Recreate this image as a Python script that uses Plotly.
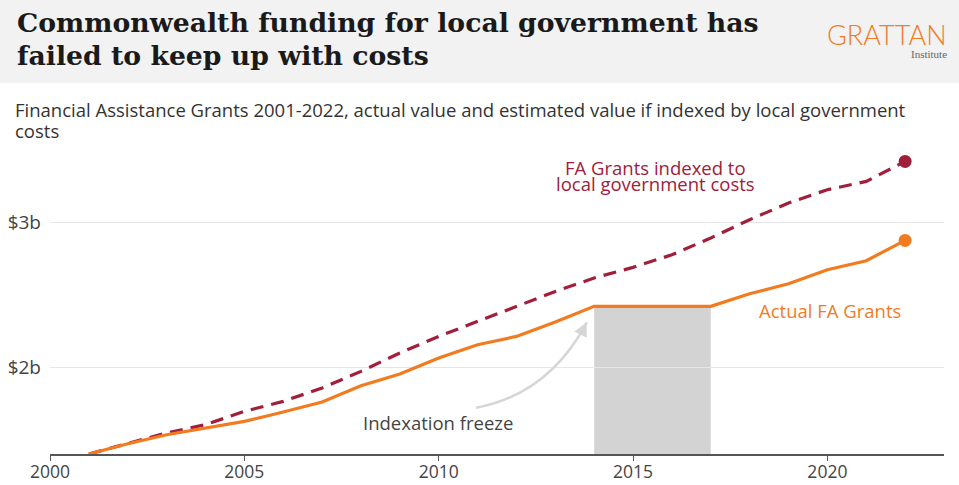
import plotly.graph_objects as go

years = list(range(2001, 2023))
actual = [1.40, 1.471, 1.533, 1.577, 1.625, 1.690, 1.758, 1.871, 1.952, 2.062, 2.154,
          2.211, 2.310, 2.418, 2.418, 2.418, 2.418, 2.505, 2.574, 2.671, 2.733, 2.873]
indexed = [1.40, 1.475, 1.545, 1.602, 1.694, 1.763, 1.855, 1.970, 2.097, 2.211, 2.314,
           2.418, 2.521, 2.614, 2.687, 2.774, 2.890, 3.016, 3.131, 3.223, 3.280, 3.418]
freeze_start, freeze_end = 2014, 2017
x_ticks = [2000, 2005, 2010, 2015, 2020]
y_ticks = [2, 3]
y_tick_labels = ["$2b", "$3b"]

ORANGE = "#F37B1F"
MAROON = "#A0203C"
W, H = 959, 485
L, R, T, B = 50, 15, 135, 31
X0, X1 = 2000, 2023
Y0, Y1 = 1.4, 3.6
SANS = "Open Sans"

def px_x(p):
    return (p - L) / (W - L - R)

def px_y(p):
    return (H - B - p) / (H - T - B)

fig = go.Figure()

# freeze shaded area
fz_val = actual[years.index(freeze_start)]
fig.add_shape(type="rect", xref="x", yref="y", x0=freeze_start, x1=freeze_end,
              y0=Y0, y1=fz_val, fillcolor="#d3d3d3", line_width=0, layer="below")

fig.add_trace(go.Scatter(x=years, y=indexed, mode="lines",
                         line=dict(color=MAROON, width=3.2, dash="13px,8px"),
                         hoverinfo="skip", cliponaxis=False))
fig.add_trace(go.Scatter(x=years, y=actual, mode="lines",
                         line=dict(color=ORANGE, width=3.2),
                         hoverinfo="skip", cliponaxis=False))
fig.add_trace(go.Scatter(x=[years[-1]], y=[indexed[-1]], mode="markers",
                         marker=dict(color=MAROON, size=13), cliponaxis=False, hoverinfo="skip"))
fig.add_trace(go.Scatter(x=[years[-1]], y=[actual[-1]], mode="markers",
                         marker=dict(color=ORANGE, size=13), cliponaxis=False, hoverinfo="skip"))

# header background
fig.add_shape(type="rect", xref="paper", yref="paper",
              x0=px_x(0), x1=px_x(W), y0=px_y(83), y1=px_y(0),
              fillcolor="#f2f2f2", line_width=0, layer="below")

# curved arrow for indexation freeze
fig.add_shape(type="path", xref="x", yref="y",
              path="M 2010.96,1.719 Q 2012.83,1.812 2013.81,2.308",
              line=dict(color="#d6d6d6", width=2.5))

def ptext(x, y, text, font, xanchor="left"):
    return dict(x=px_x(x), y=px_y(y), xref="paper", yref="paper", xanchor=xanchor,
                yanchor="middle", align="left", showarrow=False, text=text, font=font)

title_font = dict(family="DejaVu Serif", size=26.7, color="#1a1a1a", weight=700)
sub_font = dict(family=SANS, size=18.5, color="#333333")
lab = 18.5

annotations = [
    dict(x=2013.81, y=2.308, ax=2013.70, ay=2.25, xref="x", yref="y", axref="x", ayref="y",
         text="", showarrow=True, arrowhead=2, arrowsize=1.1, arrowwidth=2.5, arrowcolor="#d6d6d6"),
    dict(x=2009.99, y=1.616, xref="x", yref="y", text="Indexation freeze", showarrow=False,
         font=dict(family=SANS, size=lab, color="#444444")),
    dict(x=2015.57, y=3.379, xref="x", yref="y", text="FA Grants indexed to",
         showarrow=False, font=dict(family=SANS, size=lab, color=MAROON)),
    dict(x=2015.57, y=3.266, xref="x", yref="y", text="local government costs",
         showarrow=False, font=dict(family=SANS, size=lab, color=MAROON)),
    dict(x=2020.07, y=2.388, xref="x", yref="y", text="Actual FA Grants", showarrow=False,
         font=dict(family=SANS, size=lab, color=ORANGE)),
    # title
    ptext(15, 23, "Commonwealth funding for local government has", title_font),
    ptext(15, 55, "failed to keep up with costs", title_font),
    # logo
    ptext(949, 34.5, "GRATTAN", dict(family="Lato", size=27, color=ORANGE, weight=300), "right"),
    ptext(949, 54, "Institute", dict(family="Liberation Serif", size=11, color="#666666"), "right"),
    # subtitle
    ptext(13, 110, "Financial Assistance Grants 2001-2022, actual value and estimated value if indexed by local government", sub_font),
    ptext(13, 130, "costs", sub_font),
]

fig.update_layout(
    width=W, height=H,
    margin=dict(l=L, r=R, t=T, b=B),
    paper_bgcolor="white", plot_bgcolor="white",
    showlegend=False,
    annotations=annotations,
    xaxis=dict(range=[X0, X1], tickvals=x_ticks, ticktext=[str(v) for v in x_ticks],
               showgrid=False, zeroline=False, showline=True, linecolor="#555555", linewidth=1.5,
               ticks="outside", ticklen=5, tickcolor="#555555", automargin=False,
               ticklabelstandoff=-4,
               tickfont=dict(family=SANS, size=17.5, color="#444444")),
    yaxis=dict(range=[Y0, Y1], tickvals=y_ticks, ticktext=y_tick_labels,
               showgrid=True, gridcolor="#e6e6e6", gridwidth=1.2, zeroline=False, showline=False,
               ticks="", ticklabelstandoff=8, automargin=False,
               tickfont=dict(family=SANS, size=19, color="#444444")),
)

fig.write_html("out.html", config={"displayModeBar": False},
               post_script="document.body.style.margin='0px';document.body.style.overflow='hidden';")
